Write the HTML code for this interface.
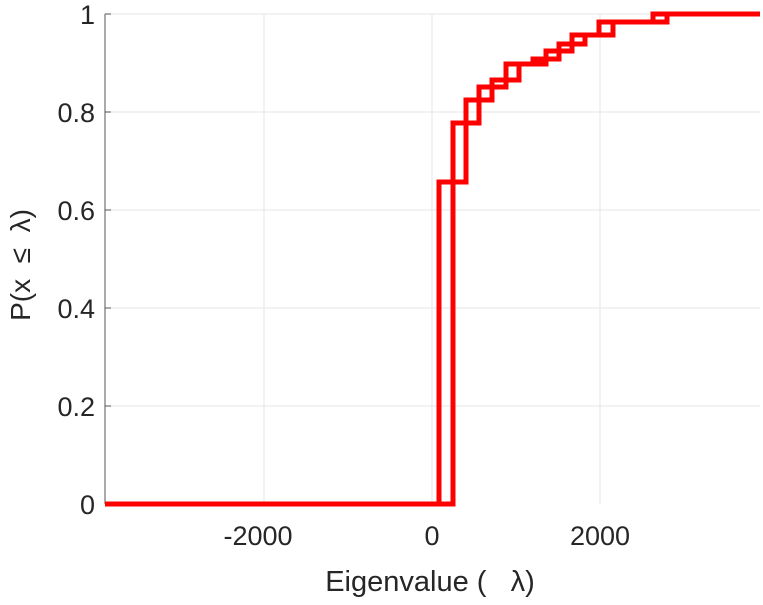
<!DOCTYPE html>
<html><head><style>body{margin:0;background:#fff}</style></head><body>
<svg width="763" height="600" xmlns="http://www.w3.org/2000/svg" font-family="Liberation Sans, sans-serif">
<rect width="763" height="600" fill="#fff"/>
<g stroke="#e6e6e6" stroke-width="1">
<line x1="264" y1="14" x2="264" y2="504"/><line x1="432" y1="14" x2="432" y2="504"/><line x1="600" y1="14" x2="600" y2="504"/>
<line x1="105" y1="14" x2="760" y2="14"/><line x1="105" y1="112" x2="760" y2="112"/><line x1="105" y1="210" x2="760" y2="210"/>
<line x1="105" y1="308" x2="760" y2="308"/><line x1="105" y1="406" x2="760" y2="406"/>
</g>
<line x1="105" y1="14" x2="105" y2="504" stroke="#555" stroke-width="1"/>
<g stroke="#555"><line x1="105" y1="14" x2="111" y2="14"/><line x1="105" y1="112" x2="111" y2="112"/><line x1="105" y1="210" x2="111" y2="210"/><line x1="105" y1="308" x2="111" y2="308"/><line x1="105" y1="406" x2="111" y2="406"/></g>
<g fill="none" stroke="#f00" stroke-width="5">
<path d="M105 504H439V182H453V123H466V100H479V87H492V80H506V64H533V59H546V51H559V44H572V35H599V22H653V14H760"/>
<path d="M105 504H453V182H466V123H479V100H492V87H506V80H519V64H546V59H559V51H572V44H585V35H613V22H667V14H760"/>
</g>
<g font-size="27" fill="#262626" text-anchor="end">
<text x="95" y="24">1</text><text x="95" y="122">0.8</text><text x="95" y="220">0.6</text>
<text x="95" y="318">0.4</text><text x="95" y="416">0.2</text><text x="95" y="514">0</text>
</g>
<g font-size="27" fill="#262626" text-anchor="middle">
<text x="258" y="545">-2000</text><text x="432" y="545">0</text><text x="600" y="545">2000</text>
<text x="430" y="591" font-size="29" xml:space="preserve">Eigenvalue (   λ)</text>
</g>
<text transform="translate(30,265) rotate(-90)" font-size="28" fill="#262626" text-anchor="middle" xml:space="preserve">P(x  ≤  λ)</text>
</svg>
</body></html>
